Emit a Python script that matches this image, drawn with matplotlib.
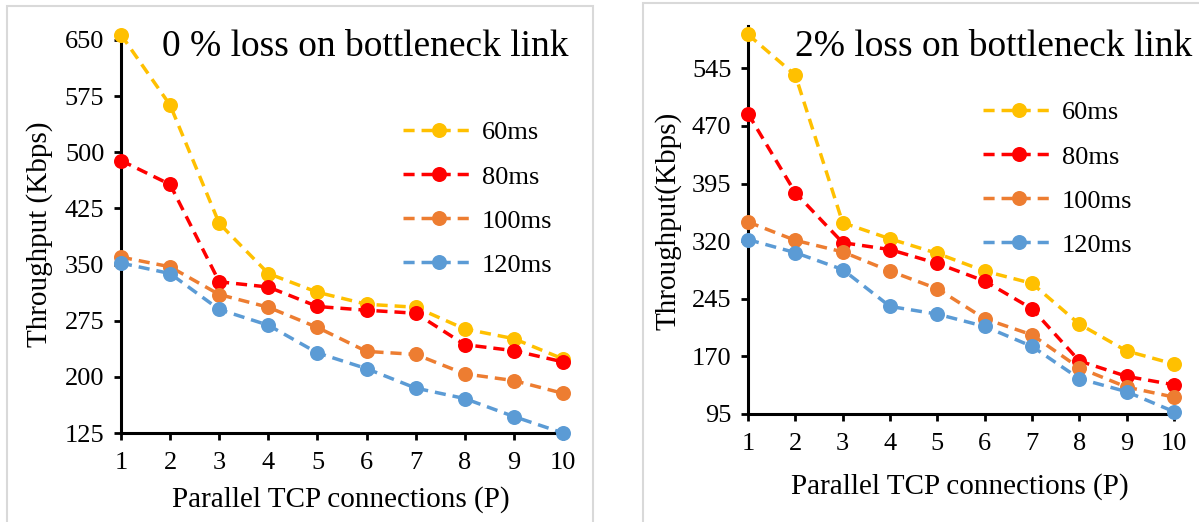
import matplotlib
matplotlib.use("Agg")
import matplotlib.pyplot as plt
from matplotlib.patches import Rectangle

# Parallel TCP connections
connections = [1, 2, 3, 4, 5, 6, 7, 8, 9, 10]
series_labels = ["60ms", "80ms", "100ms", "120ms"]

# Throughput (Kbps), 0 % loss on bottleneck link
loss0_60 = [657, 563, 405, 338, 313, 297, 293, 264, 251, 224]
loss0_80 = [489, 457, 327, 320, 294, 289, 285, 243, 235, 220]
loss0_100 = [360, 347, 310, 293, 266, 234, 230, 204, 195, 178]
loss0_120 = [352, 338, 290, 269, 232, 211, 185, 171, 147, 125]

# Throughput (Kbps), 2 % loss on bottleneck link
loss2_60 = [589, 536, 344, 323, 304, 281, 265, 212, 177, 160]
loss2_80 = [486, 383, 318, 309, 291, 268, 232, 164, 144, 133]
loss2_100 = [345, 321, 306, 281, 258, 219, 198, 155, 130, 117]
loss2_120 = [322, 305, 283, 235, 225, 209, 183, 141, 124, 98]

loss0_ticks = [125, 200, 275, 350, 425, 500, 575, 650]
loss2_ticks = [95, 170, 245, 320, 395, 470, 545]

colors = ["#FFC000", "#FF0000", "#ED7D31", "#5B9BD5"]

plt.rcParams["font.family"] = ["Liberation Serif", "DejaVu Serif"]

W, H = 1199, 522
fig = plt.figure(figsize=(W / 100, H / 100), dpi=100)


def fx(px):
    return px / W


def fy(py):
    return 1 - py / H


# light grey panel frames
fig.patches.append(Rectangle((fx(7), fy(530)), fx(593 - 7), fy(6) - fy(530),
                             transform=fig.transFigure, fill=False,
                             edgecolor="#d9d9d9", linewidth=1.5))
fig.patches.append(Rectangle((fx(643), fy(530)), fx(1210 - 643), fy(3) - fy(530),
                             transform=fig.transFigure, fill=False,
                             edgecolor="#d9d9d9", linewidth=1.5))


def panel(rect, series, yticks, ylim, title, title_xy, ylabel, ylabel_xy,
          xlabel_xy, legend_xy):
    ax = fig.add_axes(rect)
    handles = []
    for vals, col, lab in zip(series, colors, series_labels):
        h, = ax.plot(connections, vals, color=col, lw=2.5,
                     linestyle=(0, (3.2, 2.0)), marker="o", markersize=10.8,
                     markeredgewidth=0, label=lab, clip_on=False, zorder=3)
        handles.append(h)
    ax.set_xlim(1, 10)
    ax.set_ylim(*ylim)
    ax.set_xticks(connections)
    ax.set_yticks(yticks)
    for s in ("top", "right"):
        ax.spines[s].set_visible(False)
    for s in ("left", "bottom"):
        ax.spines[s].set_linewidth(2.2)
        ax.spines[s].set_color("black")
    ax.tick_params(direction="out", length=5, width=2, labelsize=19)
    ax.tick_params(axis="x", pad=9)
    ax.tick_params(axis="y", pad=7)
    fig.text(fx(title_xy[0]), fy(title_xy[1]), title, fontsize=27,
             ha="center", va="center")
    fig.text(fx(ylabel_xy[0]), fy(ylabel_xy[1]), ylabel, fontsize=21,
             rotation=90, ha="center", va="center")
    fig.text(fx(xlabel_xy[0]), fy(xlabel_xy[1]),
             "Parallel TCP connections (P)", fontsize=21,
             ha="center", va="center")
    fig.legend(handles=handles, loc="upper left",
               bbox_to_anchor=(fx(legend_xy[0]), fy(legend_xy[1])),
               bbox_transform=fig.transFigure, frameon=False, fontsize=19,
               handlelength=2.7, handletextpad=0.3, labelspacing=0.78,
               borderpad=0, borderaxespad=0)
    return ax


panel([fx(121), fy(433), fx(563 - 121), fy(40) - fy(433)],
      [loss0_60, loss0_80, loss0_100, loss0_120], loss0_ticks, (125, 650),
      "0 % loss on bottleneck link", (365, 47),
      "Throughput (Kbps)", (40, 234), (341, 500), (403, 121))

panel([fx(748), fy(414), fx(1174 - 748), fy(26) - fy(414)],
      [loss2_60, loss2_80, loss2_100, loss2_120], loss2_ticks, (95, 600),
      "2% loss on bottleneck link", (994, 47),
      "Throughput(Kbps)", (668, 221), (960, 487), (983, 101))

fig.savefig("out.png", dpi=100)
